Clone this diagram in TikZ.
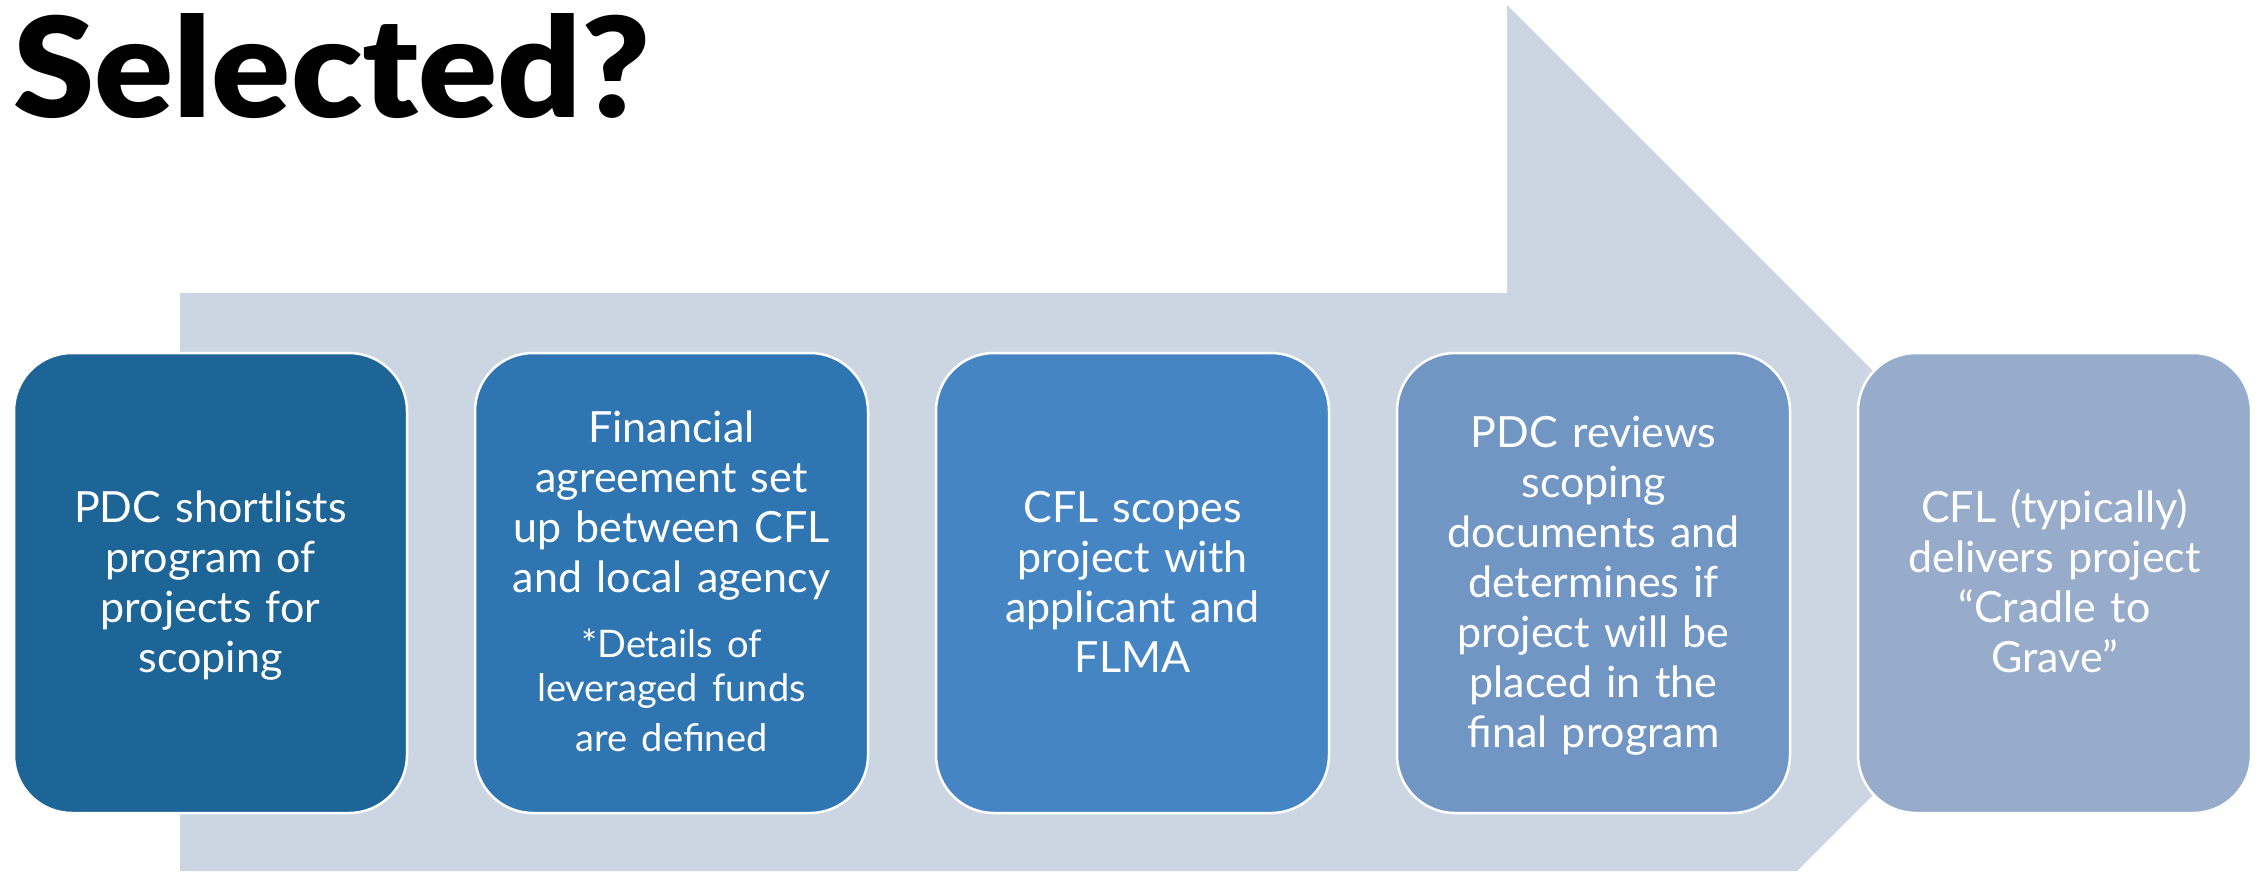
\documentclass[tikz,border=0pt]{standalone}
\usepackage{fontspec}
\setmainfont{Lato}
\newfontfamily\titlefont{Lato Black}
\definecolor{arrowbg}{RGB}{204,214,226}
\definecolor{cA}{RGB}{29,100,151}
\definecolor{cB}{RGB}{46,117,178}
\definecolor{cC}{RGB}{69,133,196}
\definecolor{cD}{RGB}{113,150,196}
\definecolor{cE}{RGB}{151,172,202}
\newcommand\TopStrut{\rule{0pt}{38pt}}
\newcommand\BotStrut{\rule[-10pt]{0pt}{10pt}}
\tikzset{
  stepbox/.style={draw=white, line width=2.5pt, rounded corners=58pt,
    minimum width=393pt, minimum height=460pt, inner sep=0pt,
    text=white, align=center, text width=388pt,
    font=\fontsize{43pt}{50pt}\selectfont},
  bigarrow/.style={fill=arrowbg, draw=none}
}
\begin{document}
\begin{tikzpicture}[x=1pt,y=-1pt]
\useasboundingbox (0,0) rectangle (2262,871);
% big background arrow
\coordinate (a1) at (180,293);
\coordinate (a2) at (1507,293);
\coordinate (a3) at (1507,5);
\coordinate (tip) at (2085,583);
\coordinate (a5) at (1797,871);
\coordinate (a6) at (180,871);
\fill[bigarrow] (a1) -- (a2) -- (a3) -- (tip) -- (a5) -- (a6) -- cycle;
% title
\node[anchor=base west, inner sep=0pt] (title) at (13,117)
  {\resizebox{637pt}{104pt}{\titlefont Selected?}};
% steps
\node[stepbox, fill=cA] (s1) at (210.5,583)
  {\TopStrut PDC shortlists\\program of\\projects for\\scoping\BotStrut};
\node[stepbox, fill=cB] (s2) at (671.5,583)
  {\TopStrut Financial\\agreement set\\up between CFL\\and local agency\par
   \vspace{21pt}\fontsize{38pt}{44pt}\selectfont *Details of\\leveraged funds\\are defined\BotStrut};
\node[stepbox, fill=cC] (s3) at (1132.5,583)
  {\TopStrut CFL scopes\\project with\\applicant and\\FLMA\BotStrut};
\node[stepbox, fill=cD] (s4) at (1593.5,583)
  {\TopStrut PDC reviews\\scoping\\documents and\\determines if\\project will be\\placed in the\\final program\BotStrut};
\node[stepbox, fill=cE] (s5) at (2054.5,583)
  {\TopStrut CFL (typically)\\delivers project\\“Cradle to\\Grave”\BotStrut};
\end{tikzpicture}
\end{document}
